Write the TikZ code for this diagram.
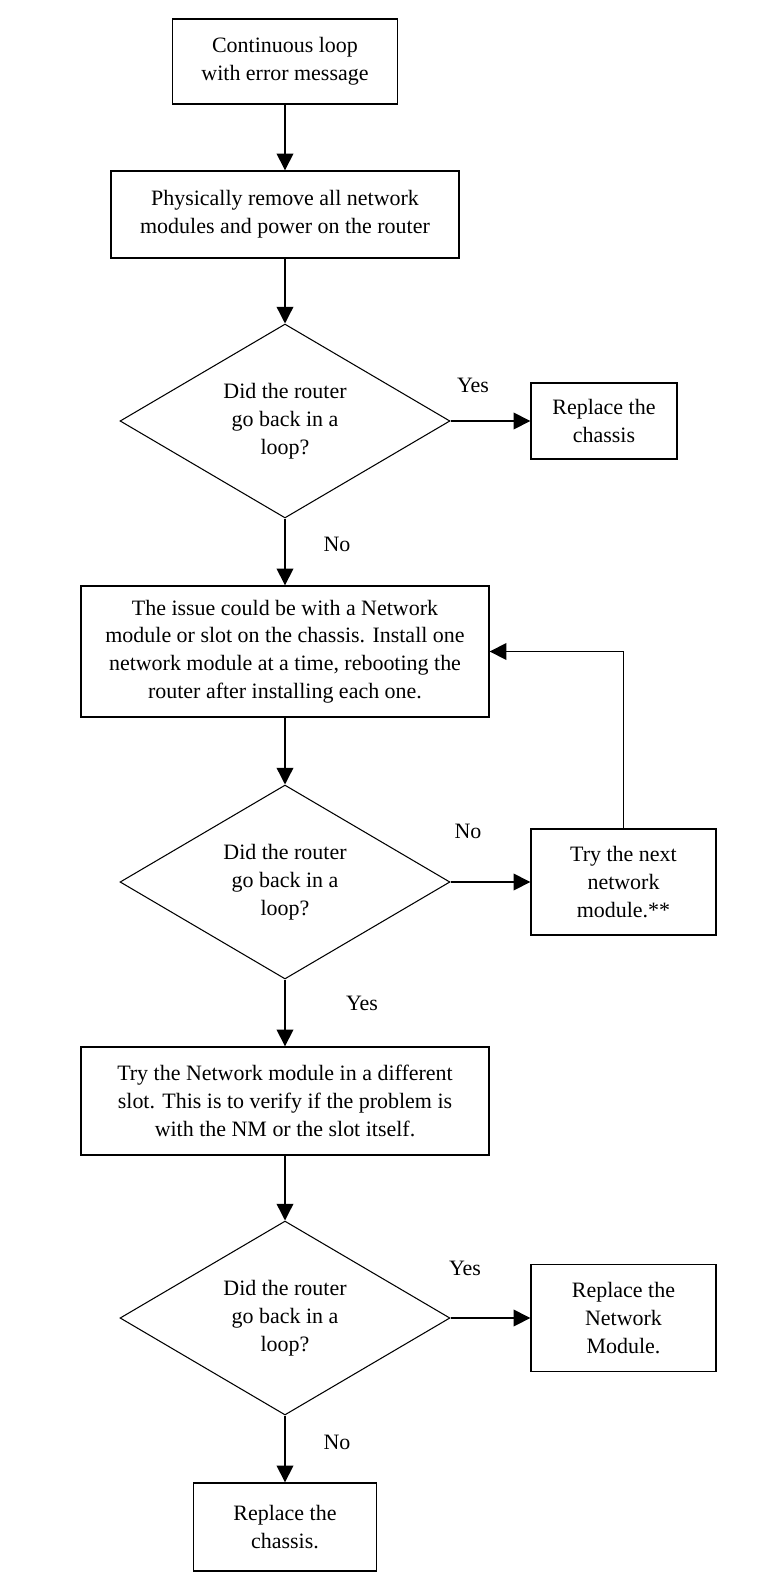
\documentclass[tikz,border=0pt]{standalone}
\usepackage{fontspec}
\setmainfont{Liberation Serif}
\usetikzlibrary{shapes.geometric,arrows.meta}
\begin{document}
\begin{tikzpicture}[x=0.02cm,y=-0.02cm,
  txt/.style={font=\fontsize{12.5}{15.8}\selectfont},
  box/.style={txt,draw,line width=0.8pt,align=center,inner sep=0pt},
  test/.style={txt,draw,diamond,line width=0.6pt,align=center,inner sep=0pt,aspect=1.7,
    minimum width=6.6cm,minimum height=3.88cm},
  flow/.style={line width=0.8pt,-{Triangle[width=9.5pt,length=9.5pt]}}]
\useasboundingbox (0,0) rectangle (760,1588);
% main column
\node[box,minimum width=4.5cm,minimum height=1.7cm] (start) at (285,61.5) {Continuous loop\\with error message};
\node[box,minimum width=6.96cm,minimum height=1.74cm] (remove) at (285,214.5) {Physically remove all network\\modules and power on the router};
\node[test] (loop1) at (285,421) {Did the router\\go back in a\\loop?};
\node[box,minimum width=8.16cm,minimum height=2.62cm] (issue) at (285,651.5) {The issue could be with a Network\\module or slot on the chassis. Install one\\network module at a time, rebooting the\\router after installing each one.};
\node[test] (loop2) at (285,882) {Did the router\\go back in a\\loop?};
\node[box,minimum width=8.16cm,minimum height=2.16cm] (slot) at (285,1101) {Try the Network module in a different\\slot. This is to verify if the problem is\\with the NM or the slot itself.};
\node[test] (loop3) at (285,1318) {Did the router\\go back in a\\loop?};
\node[box,minimum width=3.66cm,minimum height=1.76cm] (chassis2) at (285,1527) {Replace the\\chassis.};
% right column
\node[box,minimum width=2.92cm,minimum height=1.52cm] (chassis1) at (604,421) {Replace the\\chassis};
\node[box,minimum width=3.7cm,minimum height=2.12cm] (next) at (623.5,882) {Try the next\\network\\module.**};
\node[box,minimum width=3.7cm,minimum height=2.14cm] (module) at (623.5,1318) {Replace the\\Network\\Module.};
% labels
\node[txt] (yes1) at (473,385) {Yes};
\node[txt] (no1) at (337,544) {No};
\node[txt] (no2) at (468,831) {No};
\node[txt] (yes2) at (362,1003) {Yes};
\node[txt] (yes3) at (465,1268) {Yes};
\node[txt] (no3) at (337,1442) {No};
% arrows
\draw[flow] (start) -- (remove);
\draw[flow] (remove) -- (loop1);
\draw[flow] (loop1) -- (chassis1);
\draw[flow] (loop1) -- (issue);
\draw[flow] (issue) -- (loop2);
\draw[flow] (loop2) -- (next);
\draw[flow] (next.north) |- (issue.east);
\draw[flow] (loop2) -- (slot);
\draw[flow] (slot) -- (loop3);
\draw[flow] (loop3) -- (module);
\draw[flow] (loop3) -- (chassis2);
\end{tikzpicture}
\end{document}
